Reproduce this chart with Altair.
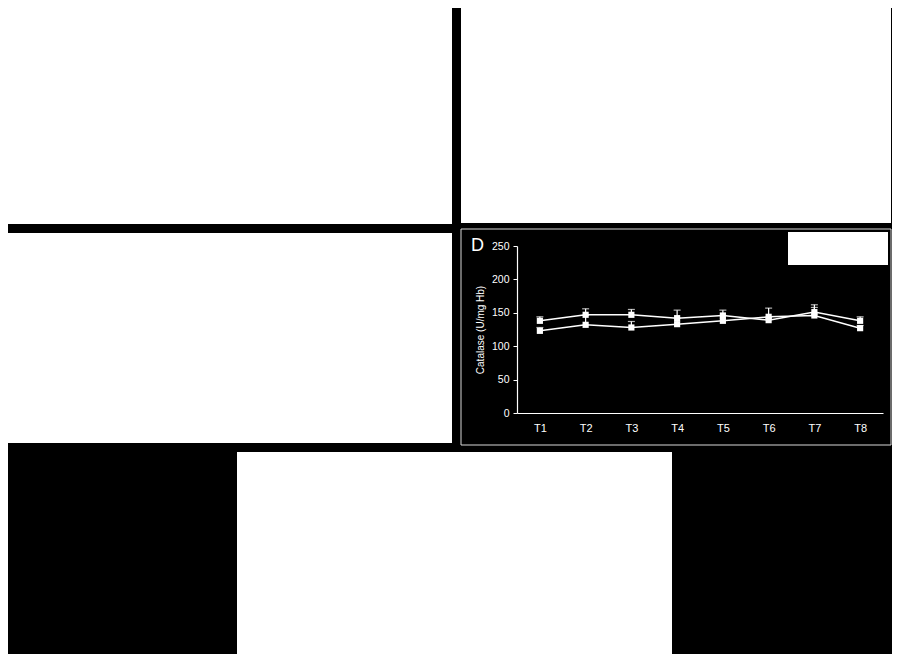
import altair as alt
import pandas as pd

# ---- data (panel D) ----
times = ["T1", "T2", "T3", "T4", "T5", "T6", "T7", "T8"]
group_a = [138, 147, 147, 142, 146, 139, 151, 138]
group_a_err = [6, 9, 8, 12, 8, 4, 11, 6]
group_b = [123, 132, 128, 133, 138, 144, 146, 127]
group_b_err = [5, 14, 9, 9, 8, 13, 12, 4]

rows = []
for name, vals, errs in (("A", group_a, group_a_err), ("B", group_b, group_b_err)):
    for t, v, e in zip(times, vals, errs):
        rows.append({"time": t, "group": name, "value": v, "upper": v + e})
df = pd.DataFrame(rows)

FONT = "Liberation Sans"
one = pd.DataFrame({"k": [0]})


def box(x1, x2, y1, y2, **style):
    """Decorative rectangle placed relative to panel D's plot area."""
    return alt.Chart(one).mark_rect(**style).encode(
        x=alt.value(x1), x2=alt.value(x2), y=alt.value(y1), y2=alt.value(y2)
    )


# blank (white) placeholder panels of the composite figure
panel_a = box(-509, -65, -238, -22, color="white")
panel_b = box(-56, 374, -238, -23, color="white")
panel_c = box(-509, -65, -13, 197, color="white")
panel_e = box(-280, 155, 206, 408, color="white")

# panel D frame, legend placeholder and letter
border = box(-56, 374, -17, 199, fill="transparent", stroke="#d8d8d8", strokeWidth=1)
legend_box = box(271, 371, -14, 19, color="white")
letter = alt.Chart(one).mark_text(
    text="D", color="white", fontSize=18, font=FONT, align="left", baseline="alphabetic"
).encode(x=alt.value(-46), y=alt.value(5))

# ---- panel D chart ----
x_enc = alt.X(
    "time:N", sort=times,
    scale=alt.Scale(type="point", padding=0.5),
    axis=alt.Axis(title=None, labelAngle=0, ticks=False, labelPadding=9,
                  domainColor="white", domainWidth=1.2, labelColor="white",
                  labelFontSize=11, labelFont=FONT, grid=False),
)
y_scale = alt.Scale(domain=[0, 250])
y_axis = alt.Axis(
    title="Catalase (U/mg Hb)", values=[0, 50, 100, 150, 200, 250],
    titleColor="white", titleFont=FONT, titleFontSize=10, titleFontWeight="normal",
    titlePadding=6, domainColor="white", domainWidth=1.2, tickColor="white",
    tickSize=4, labelPadding=4, labelColor="white", labelFontSize=10.5,
    labelFont=FONT, labelOverlap=False, labelFlush=False, grid=False,
)


def y_of(field):
    return alt.Y(field, scale=y_scale, axis=y_axis)


base = alt.Chart(df).encode(x=x_enc)
lines = base.mark_line(color="white", strokeWidth=1.5).encode(
    y=y_of("value:Q"), detail="group:N"
)
err_rules = base.mark_rule(color="white", strokeWidth=1.2).encode(
    y=y_of("value:Q"), y2="upper:Q"
)
err_caps = base.mark_tick(color="white", orient="horizontal", size=7, thickness=1.2).encode(
    y=y_of("upper:Q")
)
points = base.mark_square(color="white", size=38, opacity=1).encode(y=y_of("value:Q"))

chart = alt.layer(
    panel_a, panel_b, panel_c, panel_e, border, legend_box, letter,
    lines, err_rules, err_caps, points,
).properties(
    width=366, height=167, background="black", padding=0,
    view=alt.ViewBackground(fill="black", stroke="transparent"),
)

chart.save("out.html", embed_options={"renderer": "svg", "actions": False})
